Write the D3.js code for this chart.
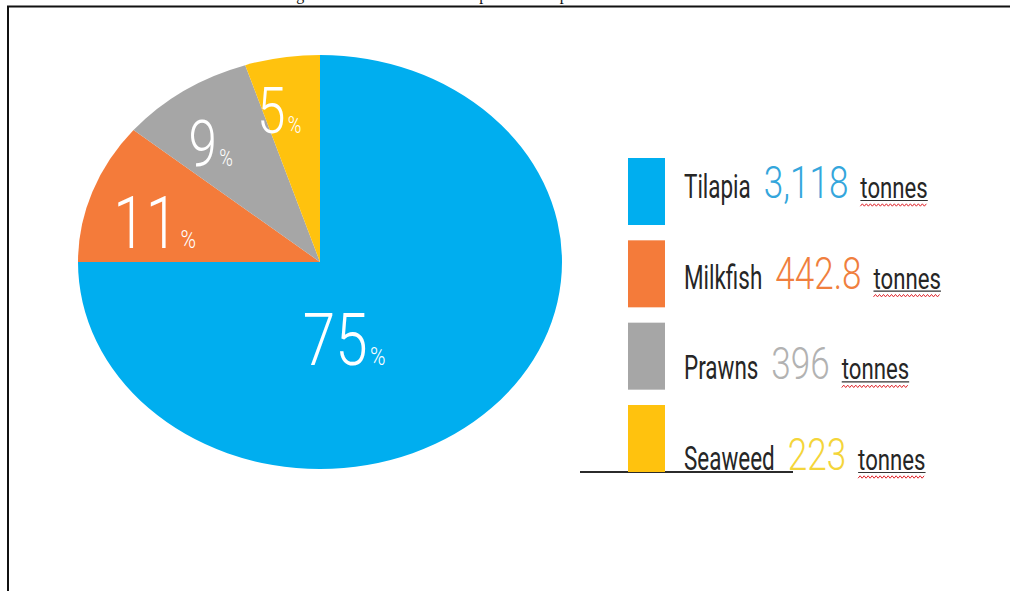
<!DOCTYPE html>
<html>
<head>
<meta charset="utf-8">
<script src="https://cdn.jsdelivr.net/npm/d3@7"></script>
<style>
  html, body { margin: 0; padding: 0; background: #fff; }
  svg { display: block; }
</style>
</head>
<body>
<svg id="chart" width="1010" height="591"></svg>
<script>
// ---- data ----
const categories = ["Tilapia", "Milkfish", "Prawns", "Seaweed"];
const shares = [75, 11, 9, 5];            // percent labels on the pie
const tonnes = [3118, 442.8, 396, 223];   // legend values
const unitLabel = "tonnes";
const titleText = "Figure 3: Total farmed fish output over the past decade";

// ---- style ----
const sliceColors = ["#00aeef", "#f47b3a", "#a6a6a6", "#ffc20e"];
const numberColors = ["#34a6dc", "#f07f3e", "#b2b2b2", "#f4d53a"];

const svg = d3.select("#chart");
const W = 1010, H = 591;

// title (mostly cut off at the top edge, as in the reference)
svg.append("text")
  .attr("x", 283).attr("y", -0.5)
  .attr("font-family", "'Liberation Serif', 'Times New Roman', serif")
  .attr("font-size", 16)
  .attr("fill", "#111")
  .text(titleText);

// frame (top and left edges visible)
svg.append("path")
  .attr("d", d3.line()([[8, H + 2], [8, 6.5], [W + 2, 6.5]]))
  .attr("fill", "none")
  .attr("stroke", "#111")
  .attr("stroke-width", 2);

// ---- pie (stretched to an ellipse) ----
const cx = 320, cy = 262, rx = 242, ry = 207, R = 100;
const pie = d3.pie().sort(null).value(d => d);
const arcs = pie(shares);
const arc = d3.arc().innerRadius(0).outerRadius(R);

const pieG = svg.append("g")
  .attr("transform", `translate(${cx},${cy}) scale(${rx / R},${ry / R})`);
pieG.selectAll("path")
  .data(arcs)
  .join("path")
  .attr("d", arc)
  .attr("fill", (d, i) => sliceColors[i]);

// slice labels
const labelFont = "Roboto, 'Open Sans', sans-serif";
const labelG = svg.append("g");
arcs.forEach((d, i) => {
  const big = (d.endAngle - d.startAngle) > Math.PI;
  let ang, rf;
  if (big) { ang = 165 * Math.PI / 180; rf = 0.385; }
  else { ang = (d.startAngle + d.endAngle) / 2 - 4 * Math.PI / 180; rf = 0.69 + 0.02 * i; }
  const x = cx + Math.sin(ang) * rf * rx;
  const y = cy - Math.cos(ang) * rf * ry;
  const fs = (i < 2) ? 73 : 64;
  const t = labelG.append("text")
    .attr("transform", `translate(${x},${y + fs * 0.711 / 2}) scale(0.8,1)`)
    .attr("text-anchor", "middle")
    .attr("font-family", labelFont)
    .attr("font-weight", 300)
    .attr("fill", "#ffffff");
  t.append("tspan").attr("font-size", fs).text(shares[i]);
  t.append("tspan").attr("font-size", fs * 0.36).attr("dx", 3).text("%");
});

// ---- legend ----
const swX = 628, swW = 37, swH = 67;
const swY = d3.scaleLinear().domain([0, 3]).range([158, 405]);
const baseY = d3.scaleLinear().domain([0, 3]).range([198, 470]);
const textX = 684;

// stray underline under the last row
svg.append("line")
  .attr("x1", 580).attr("x2", 793)
  .attr("y1", 472).attr("y2", 472)
  .attr("stroke", "#2b2b2b").attr("stroke-width", 2);

const legend = svg.append("g");
const fmt = d3.format(",");

categories.forEach((c, i) => {
  legend.append("rect")
    .attr("x", swX).attr("y", swY(i))
    .attr("width", swW).attr("height", swH)
    .attr("fill", sliceColors[i]);

  const by = baseY(i);
  let x = textX;

  const nameSX = 0.66;
  const name = legend.append("text")
    .attr("transform", `translate(${x},${by}) scale(${nameSX},1)`)
    .attr("font-family", labelFont)
    .attr("font-size", 34)
    .attr("fill", "#262626")
    .text(c);
  x += name.node().getComputedTextLength() * nameSX + 13;

  const numSX = 0.78;
  const num = legend.append("text")
    .attr("transform", `translate(${x},${by}) scale(${numSX},1)`)
    .attr("font-family", labelFont)
    .attr("font-weight", 300)
    .attr("font-size", 45)
    .attr("fill", numberColors[i])
    .text(fmt(tonnes[i]));
  x += num.node().getComputedTextLength() * numSX + 12;

  const unitSX = 0.74;
  const unit = legend.append("text")
    .attr("transform", `translate(${x},${by}) scale(${unitSX},1)`)
    .attr("font-family", labelFont)
    .attr("font-size", 30)
    .attr("fill", "#262626")
    .text(unitLabel);
  const uw = unit.node().getComputedTextLength() * unitSX;
  // underline
  legend.append("line")
    .attr("x1", x).attr("x2", x + uw)
    .attr("y1", by + 2.5).attr("y2", by + 2.5)
    .attr("stroke", "#333").attr("stroke-width", 1.2);
  // red spell-check squiggle
  const pts = d3.range(0, Math.floor(uw / 2) + 1).map(k => [x + k * 2, by + 7 + (k % 2 ? -1.2 : 1.2)]);
  legend.append("path")
    .attr("d", d3.line()(pts))
    .attr("fill", "none")
    .attr("stroke", "#e0252b")
    .attr("stroke-width", 1);
});
</script>
</body>
</html>
